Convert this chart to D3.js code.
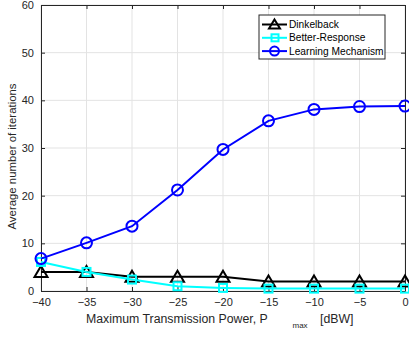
<!DOCTYPE html>
<meta charset="utf-8">
<script src="https://d3js.org/d3.v7.min.js"></script>
<style>
  body { margin: 0; background: #fff; }
  text { font-family: "Liberation Sans", Arial, sans-serif; }
</style>
<div id="chart"></div>
<script>
  // data
  var powers = [-40, -35, -30, -25, -20, -15, -10, -5, 0];
  var dinkelback = [4, 4, 3, 3, 3, 2, 2, 2, 2];
  var betterResponse = [6.1, 4, 2.4, 1.0, 0.65, 0.5, 0.5, 0.5, 0.5];
  var learning = [6.8, 10.1, 13.6, 21.2, 29.7, 35.7, 38.1, 38.7, 38.8];
  var xTicks = [-40, -35, -30, -25, -20, -15, -10, -5, 0];
  var yTicks = [0, 10, 20, 30, 40, 50, 60];

  var W = 409, H = 337;
  var margin = {top: 5, right: 4, bottom: 46, left: 41};
  var width = W - margin.left - margin.right,
      height = H - margin.top - margin.bottom;

  var svg = d3.select("#chart").append("svg")
      .attr("width", W).attr("height", H)
    .append("g")
      .attr("transform", "translate(" + margin.left + "," + margin.top + ")");

  var x = d3.scaleLinear().domain([-40, 0]).range([0, width]);
  var y = d3.scaleLinear().domain([0, 60]).range([height, 0]);

  // grid
  svg.append("g").selectAll("line").data(xTicks).enter().append("line")
    .attr("x1", d => x(d)).attr("x2", d => x(d))
    .attr("y1", 0).attr("y2", height)
    .attr("stroke", "#e3e3e3").attr("stroke-width", 1);
  svg.append("g").selectAll("line").data(yTicks).enter().append("line")
    .attr("y1", d => y(d)).attr("y2", d => y(d))
    .attr("x1", 0).attr("x2", width)
    .attr("stroke", "#e3e3e3").attr("stroke-width", 1);

  // axes (ticks pointing inward)
  var xAxis = svg.append("g")
    .attr("transform", "translate(0," + height + ")")
    .call(d3.axisBottom(x).tickValues(xTicks).tickSize(-4).tickSizeOuter(0).tickPadding(7));
  var xTop = svg.append("g")
    .call(d3.axisTop(x).tickValues(xTicks).tickSize(-4).tickSizeOuter(0).tickFormat(""));
  var yAxis = svg.append("g")
    .call(d3.axisLeft(y).tickValues(yTicks).tickSize(-4).tickSizeOuter(0).tickPadding(7));
  var yRight = svg.append("g")
    .attr("transform", "translate(" + width + ",0)")
    .call(d3.axisRight(y).tickValues(yTicks).tickSize(-4).tickSizeOuter(0).tickFormat(""));
  [xAxis, xTop, yAxis, yRight].forEach(function(a) {
    a.selectAll("path").attr("stroke", "#262626");
    a.selectAll("line").attr("stroke", "#262626");
    a.selectAll("text").attr("fill", "#262626").style("font-size", "11px")
      .style("font-family", "Liberation Sans, Arial, sans-serif");
  });

  // series
  var series = [
    {name: "Dinkelback", values: dinkelback, color: "#000000", marker: "triangle"},
    {name: "Better-Response", values: betterResponse, color: "#00ffff", marker: "square"},
    {name: "Learning Mechanism", values: learning, color: "#0000ff", marker: "circle"}
  ];

  var line = d3.line().x((d, i) => x(powers[i])).y(d => y(d));

  function drawMarker(g, type, color, cx, cy) {
    if (type === "triangle") {
      g.append("path")
        .attr("d", "M" + cx + "," + (cy - 6) + "L" + (cx + 6.5) + "," + (cy + 5) + "L" + (cx - 6.5) + "," + (cy + 5) + "Z")
        .attr("fill", "none").attr("stroke", color).attr("stroke-width", 2);
    } else if (type === "square") {
      g.append("rect").attr("x", cx - 4).attr("y", cy - 4).attr("width", 8).attr("height", 8)
        .attr("fill", "none").attr("stroke", color).attr("stroke-width", 2);
    } else {
      g.append("circle").attr("cx", cx).attr("cy", cy).attr("r", 5.5)
        .attr("fill", "none").attr("stroke", color).attr("stroke-width", 2);
    }
  }

  series.forEach(function(s) {
    svg.append("path").datum(s.values)
      .attr("d", line).attr("fill", "none")
      .attr("stroke", s.color).attr("stroke-width", 2);
    var g = svg.append("g");
    s.values.forEach(function(v, i) { drawMarker(g, s.marker, s.color, x(powers[i]), y(v)); });
  });

  // legend
  var lg = svg.append("g").attr("transform", "translate(" + (259 - margin.left) + "," + (15 - margin.top) + ")");
  lg.append("rect").attr("width", 126).attr("height", 44)
    .attr("fill", "#fff").attr("stroke", "#262626").attr("stroke-width", 1);
  series.forEach(function(s, i) {
    var yy = 9.5 + i * 13.3;
    lg.append("line").attr("x1", 3).attr("x2", 28).attr("y1", yy).attr("y2", yy)
      .attr("stroke", s.color).attr("stroke-width", 2);
    var mg = lg.append("g");
    if (s.marker === "triangle") {
      mg.append("path").attr("d", "M15.5," + (yy - 5) + "L21," + (yy + 4) + "L10," + (yy + 4) + "Z")
        .attr("fill", "none").attr("stroke", s.color).attr("stroke-width", 2);
    } else if (s.marker === "square") {
      mg.append("rect").attr("x", 12.5).attr("y", yy - 3.5).attr("width", 7).attr("height", 7)
        .attr("fill", "none").attr("stroke", s.color).attr("stroke-width", 2);
    } else {
      mg.append("circle").attr("cx", 15.5).attr("cy", yy).attr("r", 4.5)
        .attr("fill", "none").attr("stroke", s.color).attr("stroke-width", 2);
    }
    lg.append("text").attr("x", 30).attr("y", yy + 3.6)
      .style("font-size", "10.2px").attr("fill", "#000").text(s.name);
  });

  // axis labels
  svg.append("text")
    .attr("transform", "translate(" + (16 - margin.left) + "," + (156.5 - margin.top) + ") rotate(-90)")
    .attr("text-anchor", "middle")
    .style("font-size", "11.4px").attr("fill", "#262626")
    .text("Average number of iterations");

  var xl = svg.append("text")
    .attr("x", 86 - margin.left).attr("y", 322.5 - margin.top)
    .style("font-size", "12.3px").attr("fill", "#262626");
  xl.append("tspan").text("Maximum Transmission Power, P");
  xl.append("tspan").attr("x", 292.5 - margin.left).attr("y", 327.5 - margin.top)
    .style("font-size", "8px").text("max");
  xl.append("tspan").attr("x", 320 - margin.left).attr("y", 322.5 - margin.top).text("[dBW]");
</script>
